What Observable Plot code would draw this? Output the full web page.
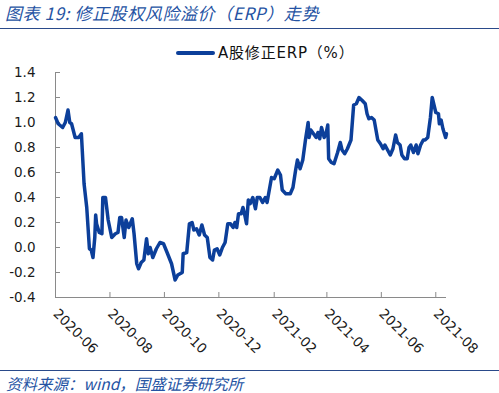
<!DOCTYPE html>
<html><head><meta charset="utf-8">
<script src="https://cdn.jsdelivr.net/npm/d3@7"></script>
<script src="https://cdn.jsdelivr.net/npm/@observablehq/plot@0.6"></script>
<style>
body{margin:0;background:#fff;}
#wrap{position:relative;width:499px;height:393px;overflow:hidden;background:#fff;}
#title{position:absolute;left:0;top:0;width:499px;height:28px;border-bottom:1.5px solid #2a4a8a;}
#title span{position:absolute;left:5px;top:3px;font-size:17px;letter-spacing:0.6px;line-height:20px;font-style:italic;color:#2553a3;font-family:"Noto Sans CJK SC",sans-serif;white-space:nowrap;}
#legend{position:absolute;left:0;top:40px;width:499px;height:26px;}
#legend .sw{position:absolute;left:176px;top:11px;width:39px;height:4px;background:#0c3f9a;border-radius:2px;}
#legend .lt{position:absolute;left:218px;top:2px;font-size:15px;letter-spacing:0.8px;line-height:22px;color:#111;font-family:"DejaVu Sans","Noto Sans CJK SC",sans-serif;white-space:nowrap;}
#plot{position:absolute;left:0;top:62px;}
#source{position:absolute;left:0;top:370px;width:499px;height:23px;border-top:1.5px solid #2a4a8a;}
#source span{position:absolute;left:6px;top:2px;font-size:15.5px;line-height:20px;font-style:italic;color:#2553a3;font-family:"Noto Sans CJK SC",sans-serif;white-space:nowrap;}
</style>
</head><body>
<div id="wrap">
  <div id="title"><span>图表 19:  修正股权风险溢价（ERP）走势</span></div>
  <div id="legend"><div class="sw"></div><span class="lt">A股修正ERP（%）</span></div>
  <div id="plot"></div>
  <div id="source"><span>资料来源：wind，国盛证券研究所</span></div>
</div>
<script>
const seriesName = "A股修正ERP（%）";
const dates = [
"2020-06-01","2020-06-04","2020-06-09","2020-06-12","2020-06-15","2020-06-17","2020-06-19","2020-06-23","2020-06-27","2020-06-30",
"2020-07-03","2020-07-06","2020-07-09","2020-07-11","2020-07-13","2020-07-15","2020-07-16","2020-07-17","2020-07-20","2020-07-23",
"2020-07-24","2020-07-27","2020-07-30","2020-08-03","2020-08-07","2020-08-10","2020-08-12","2020-08-14","2020-08-17","2020-08-19",
"2020-08-22","2020-08-26","2020-08-28","2020-08-31","2020-09-02","2020-09-05","2020-09-08","2020-09-11","2020-09-13","2020-09-15",
"2020-09-18","2020-09-22","2020-09-26","2020-09-30","2020-10-04","2020-10-09","2020-10-13","2020-10-16","2020-10-21","2020-10-22",
"2020-10-26","2020-10-29","2020-11-01","2020-11-03","2020-11-06","2020-11-09","2020-11-12","2020-11-15","2020-11-18","2020-11-21",
"2020-11-24","2020-11-26","2020-11-29","2020-12-02","2020-12-05","2020-12-08","2020-12-11","2020-12-14","2020-12-17","2020-12-19",
"2020-12-21","2020-12-23","2020-12-26","2020-12-28","2020-12-30","2021-01-01","2021-01-03","2021-01-05","2021-01-08","2021-01-11",
"2021-01-13","2021-01-16","2021-01-19","2021-01-22","2021-01-24","2021-01-26","2021-01-29","2021-02-01","2021-02-05","2021-02-08",
"2021-02-10","2021-02-14","2021-02-19","2021-02-22","2021-02-25","2021-02-27","2021-03-02","2021-03-05","2021-03-08","2021-03-11",
"2021-03-12","2021-03-14","2021-03-17","2021-03-20","2021-03-22","2021-03-24","2021-03-26","2021-03-29","2021-03-31","2021-04-02",
"2021-04-03","2021-04-06","2021-04-09","2021-04-13","2021-04-16","2021-04-18","2021-04-21","2021-04-24","2021-04-28","2021-05-01",
"2021-05-04","2021-05-07","2021-05-10","2021-05-14","2021-05-16","2021-05-18","2021-05-21","2021-05-24","2021-05-26","2021-05-28",
"2021-05-31","2021-06-03","2021-06-05","2021-06-08","2021-06-11","2021-06-14","2021-06-17","2021-06-19","2021-06-22","2021-06-24",
"2021-06-27","2021-06-30","2021-07-02","2021-07-04","2021-07-07","2021-07-10","2021-07-12","2021-07-15","2021-07-18","2021-07-20",
"2021-07-23","2021-07-26","2021-07-28","2021-07-30","2021-08-01","2021-08-04","2021-08-05","2021-08-07","2021-08-09","2021-08-12",
"2021-08-13"
];
const erp = [
1.04,0.99,0.96,1.00,1.10,1.00,0.99,0.88,0.88,0.91,
0.51,0.32,-0.01,-0.02,-0.08,0.08,0.26,0.19,0.12,0.11,
0.40,0.40,0.22,0.08,0.11,0.12,0.24,0.24,0.08,0.22,
0.16,0.23,0.11,-0.13,-0.17,-0.12,-0.10,0.07,-0.05,0.00,
-0.08,-0.01,0.04,0.03,-0.04,-0.13,-0.26,-0.22,-0.20,-0.05,
-0.04,0.19,0.20,0.14,0.15,0.10,0.18,0.10,0.08,-0.08,
-0.10,-0.02,-0.01,-0.06,0.00,0.04,0.19,0.19,0.16,0.20,
0.16,0.27,0.27,0.32,0.26,0.19,0.38,0.35,0.40,0.31,
0.40,0.40,0.36,0.40,0.36,0.44,0.56,0.55,0.62,0.58,
0.46,0.43,0.43,0.48,0.62,0.70,0.63,0.70,0.86,1.00,
0.88,0.94,0.91,0.88,0.92,0.87,0.96,0.88,0.91,0.98,
0.71,0.68,0.67,0.76,0.84,0.78,0.75,0.79,0.86,1.14,
1.15,1.20,1.18,1.15,1.07,1.03,1.04,1.02,0.94,0.86,
0.83,0.79,0.82,0.78,0.74,0.79,0.90,0.84,0.82,0.74,
0.71,0.71,0.80,0.82,0.76,0.82,0.75,0.82,0.86,0.86,
0.88,1.04,1.20,1.14,1.08,1.07,0.99,1.02,0.95,0.88,
0.91
];
const xTickLabels = ["2020-06","2020-08","2020-10","2020-12","2021-02","2021-04","2021-06","2021-08"];
const yTicks = [-0.4,-0.2,0.0,0.2,0.4,0.6,0.8,1.0,1.2,1.4];

const parse = s => new Date(s + "T00:00:00Z");
const data = dates.map((d, i) => ({date: parse(d), v: erp[i], s: seriesName}));
const xStart = parse("2020-06-01"), xEnd = parse("2021-08-13");
const axisColor = "#8a8a8a";
const lineColor = "#0c3f9a";

const chart = Plot.plot({
  width: 499,
  height: 304,
  marginLeft: 55,
  marginRight: 53,
  marginTop: 10,
  marginBottom: 69,
  style: {fontFamily: "'DejaVu Sans', sans-serif", fontSize: "13px", color: "#1a1a1a", background: "#fff"},
  x: {type: "utc", domain: [xStart, xEnd]},
  y: {domain: [-0.4, 1.4]},
  marks: [
    Plot.axisY({ticks: yTicks, tickFormat: d => d.toFixed(1), tickSize: -5, tickPadding: 25, label: null, stroke: axisColor, fill: "#1a1a1a", fontSize: 13.5}),
    Plot.axisX({ticks: xTickLabels.map(s => parse(s + "-01")), tickFormat: d => d3.utcFormat("%Y-%m")(d), tickRotate: 45, tickSize: -5, tickPadding: 19, label: null, stroke: axisColor, fill: "#1a1a1a", fontSize: 13.5}),
    Plot.ruleX([xStart], {stroke: axisColor}),
    Plot.ruleY([-0.4], {stroke: axisColor}),
    Plot.lineY(data, {x: "date", y: "v", stroke: lineColor, strokeWidth: 3.5, strokeLinejoin: "round"})
  ]
});
document.getElementById("plot").appendChild(chart);
</script>
</body></html>
